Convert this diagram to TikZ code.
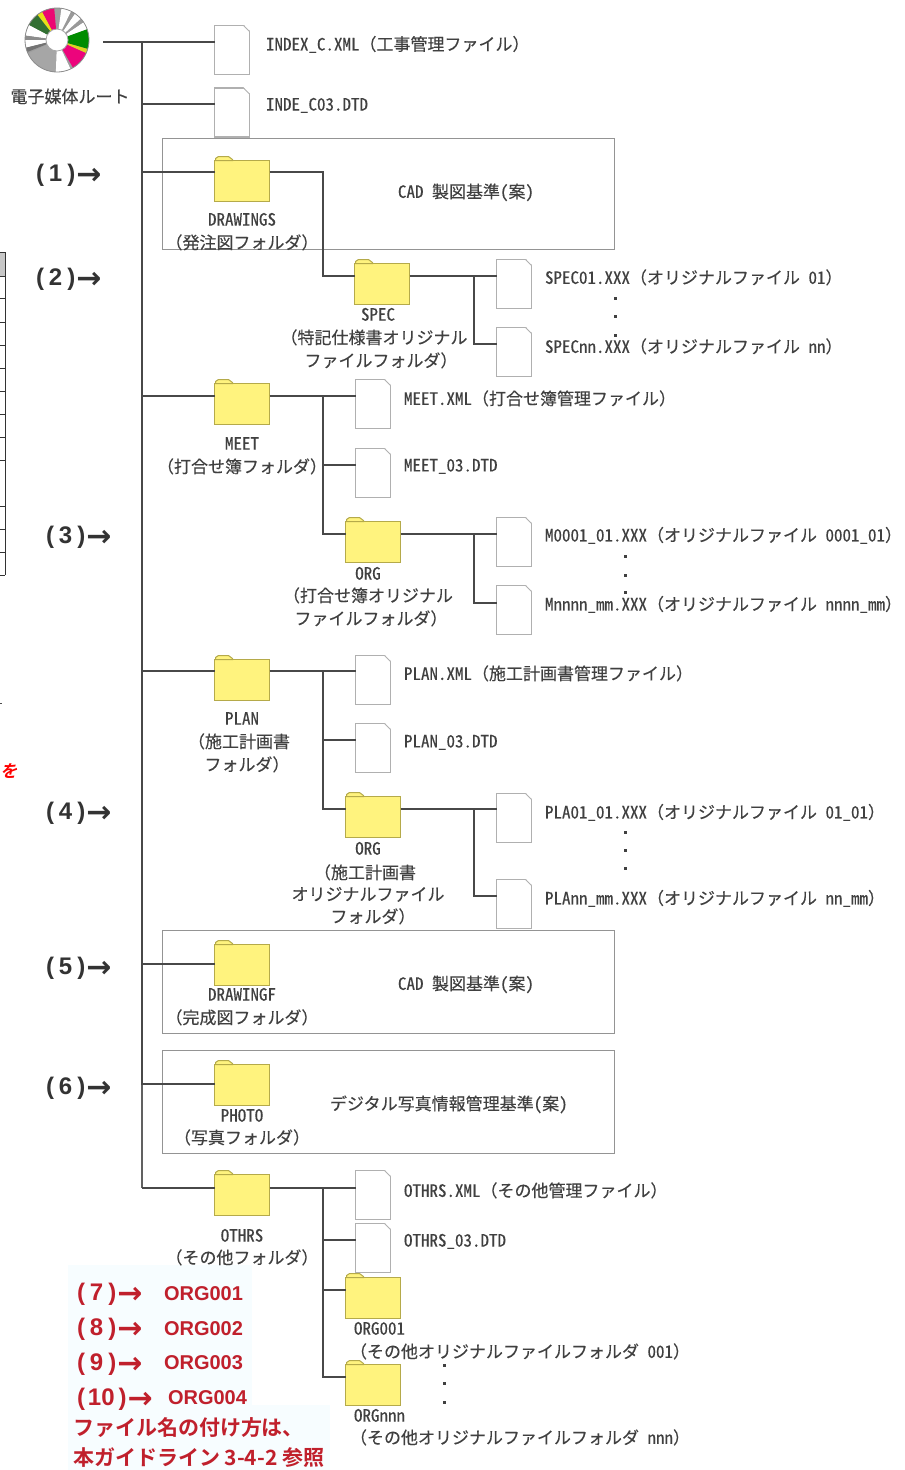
\documentclass[tikz,border=0pt]{standalone}
\usepackage{fontspec}
\setmainfont[RawFeature=+hwid,FakeBold=0.25]{Noto Sans CJK JP}
\newfontfamily\fullw[FakeBold=0.25]{Noto Sans CJK JP}
\newfontfamily\boldjp{Noto Sans CJK JP Bold}
\newfontfamily\slantjp[FakeSlant=0.25]{Noto Sans CJK JP Bold}
\newfontfamily\labelf{Liberation Sans}[BoldFont={Liberation Sans Bold}]
\newfontfamily\arrowf{DejaVu Sans Bold}
\newcommand{\LP}{{\fullw （}}
\newcommand{\RP}{{\fullw ）}}
\newcommand{\Arr}{\kern1pt\raisebox{-2.4pt}{\arrowf\fontsize{30}{30}\selectfont →}}
\definecolor{ink}{HTML}{404040}
\definecolor{conn}{HTML}{484848}
\definecolor{redtxt}{HTML}{C0202C}
\definecolor{foldfill}{HTML}{FFF37E}
\definecolor{foldline}{HTML}{B5AA4A}
\definecolor{docline}{HTML}{B0B0B0}
\tikzset{
  every node/.style={inner sep=0pt,outer sep=0pt},
  lbl/.style={text=ink,font=\fontsize{17}{19}\selectfont,anchor=west,yshift=-0.4pt},
  ctr/.style={text=ink,font=\fontsize{17}{19}\selectfont,anchor=center,yshift=-0.4pt},
  num/.style={text=black!80,font=\labelf\bfseries\fontsize{24}{26}\selectfont,anchor=west,text height=17pt,text depth=5pt,yshift=-2.6pt},
  rednum/.style={num,text=redtxt},
  redorg/.style={text=redtxt,font=\labelf\bfseries\fontsize{20}{22}\selectfont,anchor=west},
  rednote/.style={text=redtxt,font=\boldjp\fontsize{21}{23}\selectfont,anchor=west},
  docfile/.style={rectangle,draw=docline,line width=1.2pt,fill=white,minimum width=35pt,minimum height=49pt},
  fold/.style={draw=docline,line width=1pt,fill=white},
  folder/.style={rectangle,draw=foldline,line width=1.2pt,fill=foldfill,minimum width=55pt,minimum height=41pt},
  tab/.style={draw=foldline,line width=1pt,fill=foldfill},
  group/.style={rectangle,draw=black!42,line width=1pt,minimum width=452pt},
  link/.style={draw=conn,line width=1.3pt},
  trunk/.style={draw=black!62,line width=1.6pt},
  dotm/.style={rectangle,fill=black!75,minimum width=3pt,minimum height=3pt},
  tbl/.style={draw=black!80,line width=1pt},
}
\begin{document}
\begin{tikzpicture}[x=1pt,y=-1pt]
\useasboundingbox (0,0) rectangle (905,1470);
\fill[white] (0,0) rectangle (905,1470);
% faint patch behind the red notes
\fill[cyan!3] (68,1265) rectangle (252,1405);
\fill[cyan!3] (68,1405) rectangle (330,1470);

% table fragment at left edge
\fill[black!22] (0,252) rectangle (5,276);
\draw[tbl] (5,252) -- (5,575);
\foreach \yy in {252,276,298,322,345,368,391,414,437,460,506,529,552,575}{\draw[tbl] (0,\yy) -- (5,\yy);}
\draw[black!70,line width=1pt] (0,703) -- (2,703);
\node[text=red,font=\slantjp\fontsize{17}{18}\selectfont,anchor=west] (wo) at (0,771) {を};

% groups
\node[group,minimum height=111pt] (g1) at (388,193.5) {};
\node[group,minimum height=103pt] (g5) at (388,981.5) {};
\node[group,minimum height=103pt] (g6) at (388,1101.5) {};

% CD
\node[circle,minimum size=64pt] (cd) at (57,40) {};
\fill[black!38] (cd.center) circle (32);
\foreach \a/\b/\c in {
 95/118/{magenta!75!red},118/128/yellow!90!black,128/152/{green!30!black!80},
 152/172/white,172/180/black!45,180/194/white,194/202/black!55,
 205/268/black!35,268/295/white,
 300/336/{magenta!85!red},336/344/yellow!85!black,344/380/{green!55!black},
 20/34/white,34/42/black!40,42/56/white,56/64/black!40,64/82/white}{
  \fill[\c] (57,40) -- ++(\a:32 and -32) arc[start angle=\a,end angle=\b,x radius=32,y radius=-32] -- cycle;
}
\fill[white] (cd.center) circle (11);
\draw[black!35,line width=.8pt] (cd.center) circle (11);
\draw[black!45,line width=.8pt] (cd.center) circle (32);
\coordinate (rootout) at (103,42);
\coordinate (tt) at (142,42);
\coordinate (tb) at (142,1188);

% files
\node[docfile] (f1) at (232,50) {};
\node[docfile] (f2) at (232,112.5) {};
\node[docfile] (spec1) at (514,284) {};
\node[docfile] (spec2) at (514,352) {};
\node[docfile] (m1) at (373,404) {};
\node[docfile] (m2) at (373,473) {};
\node[docfile] (m3) at (514,542) {};
\node[docfile] (m4) at (514,610) {};
\node[docfile] (p1) at (373,680) {};
\node[docfile] (p2) at (373,748) {};
\node[docfile] (p3) at (514,818) {};
\node[docfile] (p4) at (514,904) {};
\node[docfile] (o1) at (373,1195) {};
\node[docfile] (o2) at (373,1248) {};
\foreach \n in {f1,f2,spec1,spec2,m1,m2,m3,m4,p1,p2,p3,p4,o1,o2}{
  \fill[white] ([xshift=-6pt,yshift=1pt]\n.north east) -- ([xshift=1pt,yshift=1pt]\n.north east) -- ([xshift=1pt,yshift=-6pt]\n.north east) -- cycle;
  \draw[fold] ([xshift=-6pt]\n.north east) -- ([yshift=-6pt]\n.north east);
}

% folders
\node[folder] (drw) at (242,181) {};
\node[folder] (spec) at (382,284) {};
\node[folder] (meet) at (242,404) {};
\node[folder] (morg) at (373,542) {};
\node[folder] (plan) at (242,680) {};
\node[folder] (porg) at (373,817) {};
\node[folder] (drf) at (242,965) {};
\node[folder] (pho) at (242,1085) {};
\node[folder] (oth) at (242,1195) {};
\node[folder] (org1) at (373,1298) {};
\node[folder] (orgn) at (373,1385) {};
\foreach \n in {drw,spec,meet,morg,plan,porg,drf,pho,oth,org1,orgn}{
  \draw[tab] ([xshift=1pt]\n.north west) -- ++(0,-2) -- ++(3,-2) -- ++(10,0) -- ++(4,3) -- ++(0,1) -- cycle;
}

% connectors
\draw[trunk] (tt) -- (tb);
\draw[link] (rootout) -- ([yshift=8pt]f1.west);
\draw[link] (tt) |- ([yshift=8.5pt]f2.west);
\draw[link] (tt) |- ([yshift=9pt]drw.west);
\draw[link] (tt) |- ([yshift=8pt]meet.west);
\draw[link] (tt) |- ([yshift=9pt]plan.west);
\draw[link] (tt) |- ([yshift=1pt]drf.west);
\draw[link] (tt) |- ([yshift=1pt]pho.west);
\draw[link] (tb) -- ([yshift=7pt]oth.west);
% DRAWINGS -> SPEC
\draw[link] ([yshift=9pt]drw.east) -| (323,276) -- ([yshift=8pt]spec.west);
\draw[link] ([yshift=8pt]spec.east) -- ([yshift=8pt]spec1.west);
\draw[link] (474,276) |- ([yshift=8pt]spec2.west);
% MEET
\draw[link] ([yshift=8pt]meet.east) -- ([yshift=8pt]m1.west);
\draw[link] (323,396) |- ([yshift=8pt]m2.west);
\draw[link] (323,396) |- ([yshift=8pt]morg.west);
\draw[link] ([yshift=8pt]morg.east) -- ([yshift=8pt]m3.west);
\draw[link] (474,534) |- ([yshift=7pt]m4.west);
% PLAN
\draw[link] ([yshift=9pt]plan.east) -- ([yshift=9pt]p1.west);
\draw[link] (323,671) |- ([yshift=8pt]p2.west);
\draw[link] (323,671) |- ([yshift=8pt]porg.west);
\draw[link] ([yshift=8pt]porg.east) -- ([yshift=9pt]p3.west);
\draw[link] (474,809) |- ([yshift=8pt]p4.west);
% OTHRS
\draw[link] ([yshift=7pt]oth.east) -- ([yshift=7pt]o1.west);
\draw[link] (323,1188) |- ([yshift=8pt]o2.west);
\draw[link] (323,1188) |- ([yshift=8pt]org1.west);
\draw[link] (323,1188) |- ([yshift=8pt]orgn.west);

% dots
\foreach \xx/\yy in {615/298,615/316,615/335,625/556,625/575,625/592,625/832,625/850,625/868,444/1365,444/1383,444/1402}{
  \node[dotm] at (\xx,\yy) {};
}

% labels
\node[ctr] (root) at (70,96) {電子媒体ルート};
\node[lbl] (lf1) at (266,44) {INDEX\_C.XML\LP 工事管理ファイル\RP};
\node[lbl] (lf2) at (266,105) {INDE\_C03.DTD};
\node[ctr] (ld1) at (242,219) {DRAWINGS};
\node[ctr] (ld2) at (242,242) {\LP 発注図フォルダ\RP};
\node[lbl] (lg1) at (398,192) {CAD 製図基準（案）};
\node[ctr] (ls1) at (378,314) {SPEC};
\node[ctr] (ls2) at (374,337) {\LP 特記仕様書オリジナル};
\node[ctr] (ls3) at (381,360) {ファイルフォルダ\RP};
\node[lbl] (ls4) at (545,277) {SPEC01.XXX\LP オリジナルファイル 01\RP};
\node[lbl] (ls5) at (545,346) {SPECnn.XXX\LP オリジナルファイル nn\RP};
\node[lbl] (lm1) at (404,398) {MEET.XML\LP 打合せ簿管理ファイル\RP};
\node[lbl] (lm2) at (404,466) {MEET\_03.DTD};
\node[ctr] (lm3) at (242,443) {MEET};
\node[ctr] (lm4) at (242,466) {\LP 打合せ簿フォルダ\RP};
\node[ctr] (lm5) at (368,573) {ORG};
\node[ctr] (lm6) at (368,595) {\LP 打合せ簿オリジナル};
\node[ctr] (lm7) at (371,618) {ファイルフォルダ\RP};
\node[lbl] (lm8) at (545,535) {M0001\_01.XXX\LP オリジナルファイル 0001\_01\RP};
\node[lbl] (lm9) at (545,604) {Mnnnn\_mm.XXX\LP オリジナルファイル nnnn\_mm\RP};
\node[lbl] (lp1) at (404,673) {PLAN.XML\LP 施工計画書管理ファイル\RP};
\node[lbl] (lp2) at (404,742) {PLAN\_03.DTD};
\node[ctr] (lp3) at (242,718) {PLAN};
\node[ctr] (lp4) at (239,741) {\LP 施工計画書};
\node[ctr] (lp5) at (247,764) {フォルダ\RP};
\node[ctr] (lp6) at (368,848) {ORG};
\node[ctr] (lp7) at (365,872) {\LP 施工計画書};
\node[ctr] (lp8) at (368,894) {オリジナルファイル};
\node[ctr] (lp9) at (373,916) {フォルダ\RP};
\node[lbl] (lpa) at (545,812) {PLA01\_01.XXX\LP オリジナルファイル 01\_01\RP};
\node[lbl] (lpb) at (545,898) {PLAnn\_mm.XXX\LP オリジナルファイル nn\_mm\RP};
\node[ctr] (lr1) at (242,994) {DRAWINGF};
\node[ctr] (lr2) at (242,1017) {\LP 完成図フォルダ\RP};
\node[lbl] (lg5) at (398,984) {CAD 製図基準（案）};
\node[ctr] (lh1) at (242,1115) {PHOTO};
\node[ctr] (lh2) at (242,1137) {\LP 写真フォルダ\RP};
\node[lbl] (lg6) at (330,1104) {デジタル写真情報管理基準（案）};
\node[lbl] (lo1) at (404,1190) {OTHRS.XML\LP その他管理ファイル\RP};
\node[lbl] (lo2) at (404,1241) {OTHRS\_03.DTD};
\node[ctr] (lo3) at (242,1235) {OTHRS};
\node[ctr] (lo4) at (242,1257) {\LP その他フォルダ\RP};
\node[lbl] (lo5) at (354,1328) {ORG001};
\node[lbl] (lo6) at (350,1351) {\LP その他オリジナルファイルフォルダ 001\RP};
\node[lbl] (lo7) at (354,1415) {ORGnnn};
\node[lbl] (lo8) at (350,1437) {\LP その他オリジナルファイルフォルダ nnn\RP};

% numbered markers
\node[num] (n1) at (36,173) {(\kern5pt1\kern5pt)\Arr};
\node[num] (n2) at (36,277) {(\kern5pt2\kern5pt)\Arr};
\node[num] (n3) at (46,535) {(\kern5pt3\kern5pt)\Arr};
\node[num] (n4) at (46,811) {(\kern5pt4\kern5pt)\Arr};
\node[num] (n5) at (46,966) {(\kern5pt5\kern5pt)\Arr};
\node[num] (n6) at (46,1086) {(\kern5pt6\kern5pt)\Arr};
\node[rednum] (n7) at (77,1292) {(\kern5pt7\kern5pt)\Arr};
\node[rednum] (n8) at (77,1327) {(\kern5pt8\kern5pt)\Arr};
\node[rednum] (n9) at (77,1362) {(\kern5pt9\kern5pt)\Arr};
\node[rednum] (n10) at (77,1397) {(\kern3pt10\kern4pt)\Arr};
\node[redorg] (r7) at (164,1294) {ORG001};
\node[redorg] (r8) at (164,1329) {ORG002};
\node[redorg] (r9) at (164,1363) {ORG003};
\node[redorg] (r10) at (168,1398) {ORG004};
\node[rednote] (note1) at (73,1428) {ファイル名の付け方は、};
\node[rednote] (note2) at (73,1458) {本ガイドライン 3-4-2 参照};
\end{tikzpicture}
\end{document}
